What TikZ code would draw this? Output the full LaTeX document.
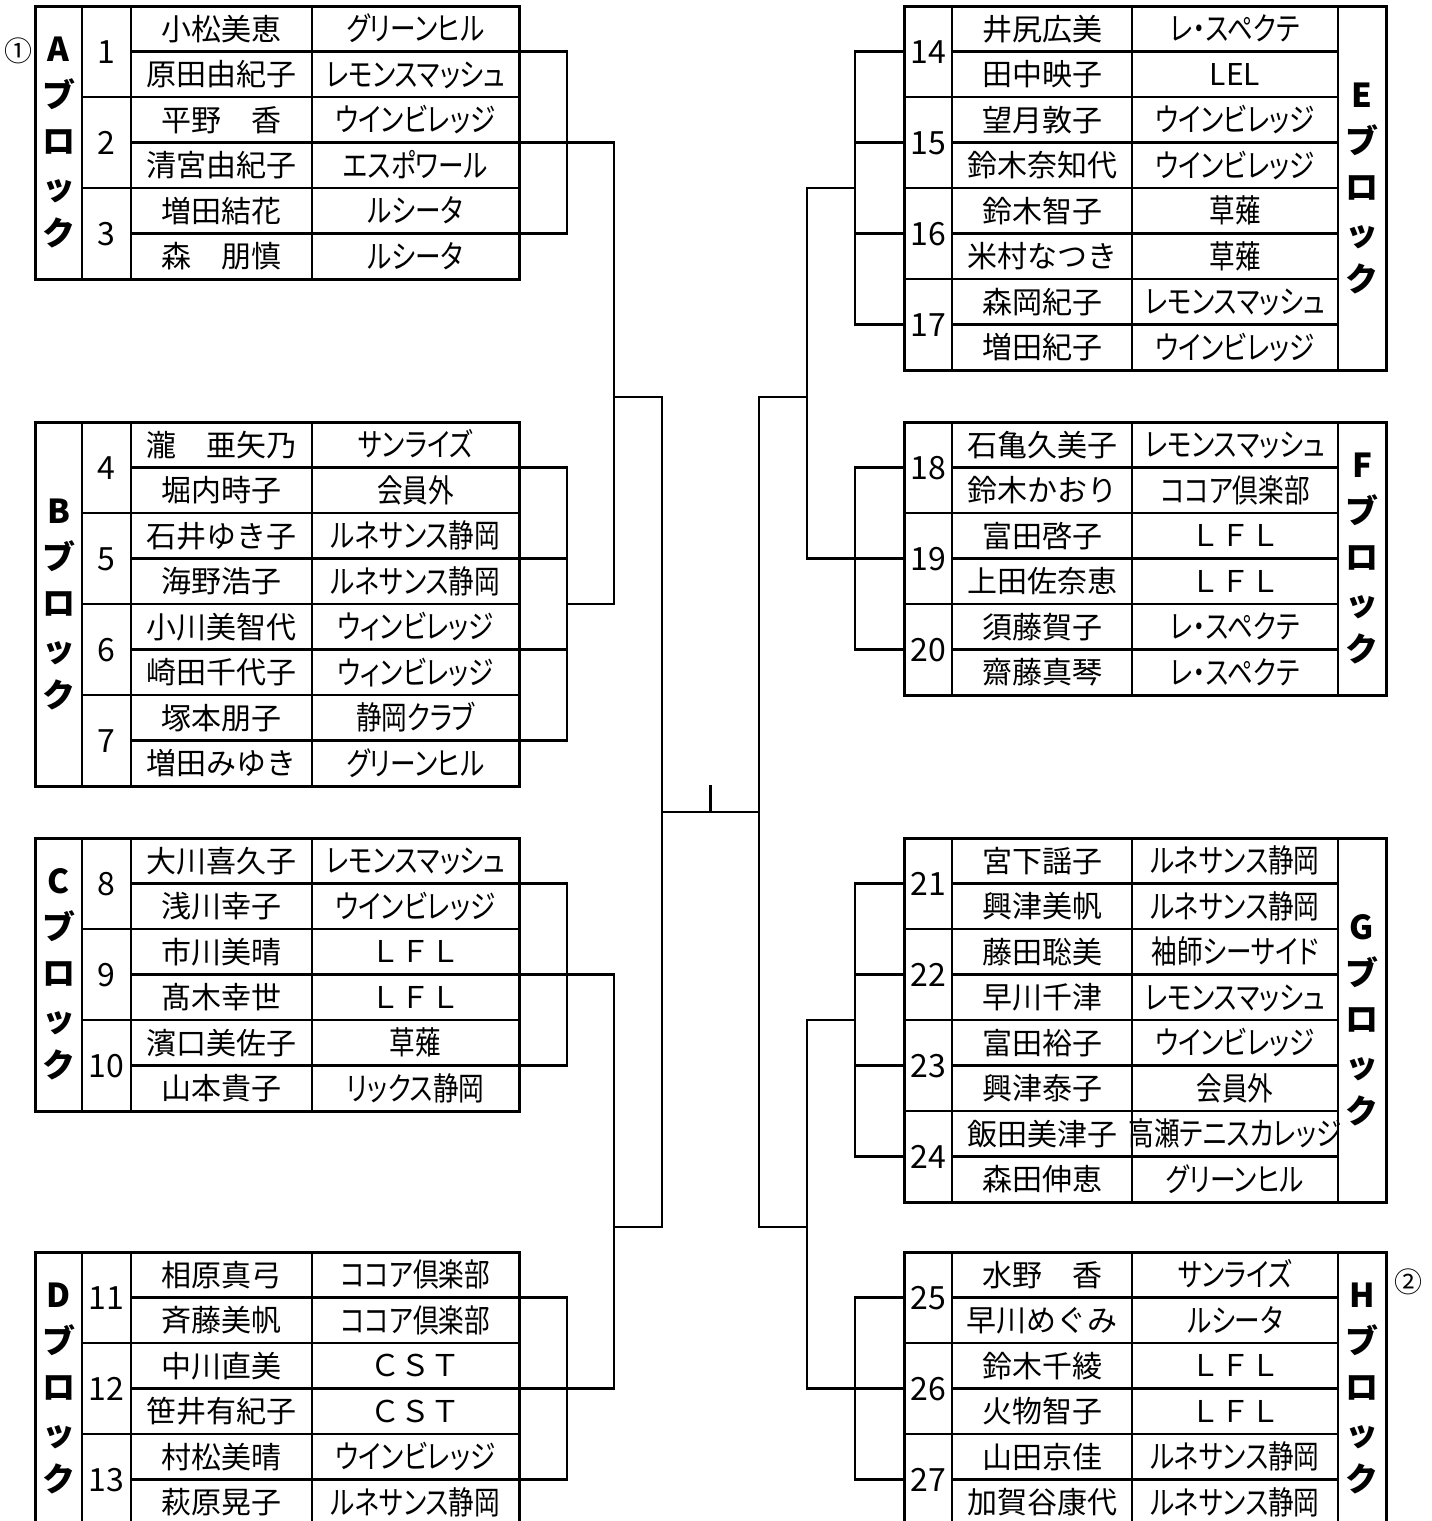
\documentclass[tikz,border=0pt]{standalone}
\usepackage{fontspec}
\setmainfont{Noto Sans CJK JP}
\newfontfamily\clubfont[RawFeature=+palt, FakeStretch=0.8]{Noto Sans CJK JP}
\usetikzlibrary{calc}
\tikzset{
  tabout/.style={draw=black, line width=1.5pt},
  tabin/.style={draw=black, line width=1.2pt},
  bline/.style={draw=black, line width=1.35pt},
  nm/.style={font=\fontsize{15}{15}\selectfont, inner sep=0pt, text height=11.4pt, text depth=0pt},
  cl/.style={font=\clubfont\fontsize{16}{16}\selectfont, inner sep=0pt, text height=12.2pt, text depth=0pt},
  clw/.style={font=\fontsize{15}{15}\selectfont, inner sep=0pt, text height=10.9pt, text depth=0pt},
  num/.style={font=\fontsize{16}{16}\selectfont, inner sep=0pt, text height=11.7pt, text depth=0pt},
  blk/.style={font=\bfseries\fontsize{16.5}{23}\selectfont, align=center, inner sep=0pt},
  circ/.style={font=\fontsize{14}{14}\selectfont, inner sep=0pt}
}

\begin{document}
\begin{tikzpicture}[x=0.5pt, y=-0.5pt]
  \useasboundingbox (0,0) rectangle (1431,1521);
  \clip (0,0) rectangle (1431,1521);

  % left tables
  \draw[tabin] (82,6) -- (82,279) (131,6) -- (131,279) (312,6) -- (312,279);
  \draw[tabin] (82,97) -- (519,97) (82,188) -- (519,188);
  \draw[tabin] (131,51.5) -- (519,51.5) (131,142.5) -- (519,142.5) (131,233.5) -- (519,233.5);
  \draw[tabout] (35,6) rectangle (519,279);

  \draw[tabin] (82,422) -- (82,786) (131,422) -- (131,786) (312,422) -- (312,786);
  \draw[tabin] (82,513) -- (519,513) (82,604) -- (519,604) (82,695) -- (519,695);
  \draw[tabin] (131,467.5) -- (519,467.5) (131,558.5) -- (519,558.5) (131,649.5) -- (519,649.5) (131,740.5) -- (519,740.5);
  \draw[tabout] (35,422) rectangle (519,786);

  \draw[tabin] (82,838) -- (82,1111) (131,838) -- (131,1111) (312,838) -- (312,1111);
  \draw[tabin] (82,929) -- (519,929) (82,1020) -- (519,1020);
  \draw[tabin] (131,883.5) -- (519,883.5) (131,974.5) -- (519,974.5) (131,1065.5) -- (519,1065.5);
  \draw[tabout] (35,838) rectangle (519,1111);

  \draw[tabin] (82,1252) -- (82,1525) (131,1252) -- (131,1525) (312,1252) -- (312,1525);
  \draw[tabin] (82,1343) -- (519,1343) (82,1434) -- (519,1434);
  \draw[tabin] (131,1297.5) -- (519,1297.5) (131,1388.5) -- (519,1388.5) (131,1479.5) -- (519,1479.5);
  \draw[tabout] (35,1252) rectangle (519,1525);

  % right tables
  \draw[tabin] (952,6) -- (952,370) (1132,6) -- (1132,370) (1338,6) -- (1338,370);
  \draw[tabin] (904,97) -- (1338,97) (904,188) -- (1338,188) (904,279) -- (1338,279);
  \draw[tabin] (952,51.5) -- (1338,51.5) (952,142.5) -- (1338,142.5) (952,233.5) -- (1338,233.5) (952,324.5) -- (1338,324.5);
  \draw[tabout] (904,6) rectangle (1386,370);

  \draw[tabin] (952,422) -- (952,695) (1132,422) -- (1132,695) (1338,422) -- (1338,695);
  \draw[tabin] (904,513) -- (1338,513) (904,604) -- (1338,604);
  \draw[tabin] (952,467.5) -- (1338,467.5) (952,558.5) -- (1338,558.5) (952,649.5) -- (1338,649.5);
  \draw[tabout] (904,422) rectangle (1386,695);

  \draw[tabin] (952,838) -- (952,1202) (1132,838) -- (1132,1202) (1338,838) -- (1338,1202);
  \draw[tabin] (904,929) -- (1338,929) (904,1020) -- (1338,1020) (904,1111) -- (1338,1111);
  \draw[tabin] (952,883.5) -- (1338,883.5) (952,974.5) -- (1338,974.5) (952,1065.5) -- (1338,1065.5) (952,1156.5) -- (1338,1156.5);
  \draw[tabout] (904,838) rectangle (1386,1202);

  \draw[tabin] (952,1252) -- (952,1525) (1132,1252) -- (1132,1525) (1338,1252) -- (1338,1525);
  \draw[tabin] (904,1343) -- (1338,1343) (904,1434) -- (1338,1434);
  \draw[tabin] (952,1297.5) -- (1338,1297.5) (952,1388.5) -- (1338,1388.5) (952,1479.5) -- (1338,1479.5);
  \draw[tabout] (904,1252) rectangle (1386,1525);

  % A block
  \node[circ] (m1) at (18,51) {①};
  \node[blk] (lA) at (58.5,142.5) {A\\ブ\\ロ\\ッ\\ク};
  \node[num] (p1) at (106.5,51.5) {1};
  \node[nm] (n1a) at (221.5,28.75) {小松美恵};     \node[cl] (c1a) at (415.5,28.75) {グリーンヒル};
  \node[nm] (n1b) at (221.5,74.25) {原田由紀子};   \node[cl] (c1b) at (415.5,74.25) {レモンスマッシュ};
  \node[num] (p2) at (106.5,142.5) {2};
  \node[nm] (n2a) at (221.5,119.75) {平野　香};    \node[cl] (c2a) at (415.5,119.75) {ウインビレッジ};
  \node[nm] (n2b) at (221.5,165.25) {清宮由紀子};  \node[cl] (c2b) at (415.5,165.25) {エスポワール};
  \node[num] (p3) at (106.5,233.5) {3};
  \node[nm] (n3a) at (221.5,210.75) {増田結花};    \node[cl] (c3a) at (415.5,210.75) {ルシータ};
  \node[nm] (n3b) at (221.5,256.25) {森　朋慎};    \node[cl] (c3b) at (415.5,256.25) {ルシータ};

  % B block
  \node[blk] (lB) at (58.5,604) {B\\ブ\\ロ\\ッ\\ク};
  \node[num] (p4) at (106.5,467.5) {4};
  \node[nm] (n4a) at (221.5,444.75) {瀧　亜矢乃};   \node[cl] (c4a) at (415.5,444.75) {サンライズ};
  \node[nm] (n4b) at (221.5,490.25) {堀内時子};     \node[cl] (c4b) at (415.5,490.25) {会員外};
  \node[num] (p5) at (106.5,558.5) {5};
  \node[nm] (n5a) at (221.5,535.75) {石井ゆき子};   \node[cl] (c5a) at (415.5,535.75) {ルネサンス静岡};
  \node[nm] (n5b) at (221.5,581.25) {海野浩子};     \node[cl] (c5b) at (415.5,581.25) {ルネサンス静岡};
  \node[num] (p6) at (106.5,649.5) {6};
  \node[nm] (n6a) at (221.5,626.75) {小川美智代};   \node[cl] (c6a) at (415.5,626.75) {ウィンビレッジ};
  \node[nm] (n6b) at (221.5,672.25) {崎田千代子};   \node[cl] (c6b) at (415.5,672.25) {ウィンビレッジ};
  \node[num] (p7) at (106.5,740.5) {7};
  \node[nm] (n7a) at (221.5,717.75) {塚本朋子};     \node[cl] (c7a) at (415.5,717.75) {静岡クラブ};
  \node[nm] (n7b) at (221.5,763.25) {増田みゆき};   \node[cl] (c7b) at (415.5,763.25) {グリーンヒル};

  % C block
  \node[blk] (lC) at (58.5,974.5) {C\\ブ\\ロ\\ッ\\ク};
  \node[num] (p8) at (106.5,883.5) {8};
  \node[nm] (n8a) at (221.5,860.75) {大川喜久子};   \node[cl] (c8a) at (415.5,860.75) {レモンスマッシュ};
  \node[nm] (n8b) at (221.5,906.25) {浅川幸子};     \node[cl] (c8b) at (415.5,906.25) {ウインビレッジ};
  \node[num] (p9) at (106.5,974.5) {9};
  \node[nm] (n9a) at (221.5,951.75) {市川美晴};     \node[clw] (c9a) at (415.5,951.75) {ＬＦＬ};
  \node[nm] (n9b) at (221.5,997.25) {髙木幸世};     \node[clw] (c9b) at (415.5,997.25) {ＬＦＬ};
  \node[num] (p10) at (106.5,1065.5) {10};
  \node[nm] (n10a) at (221.5,1042.75) {濱口美佐子}; \node[cl] (c10a) at (415.5,1042.75) {草薙};
  \node[nm] (n10b) at (221.5,1088.25) {山本貴子};   \node[cl] (c10b) at (415.5,1088.25) {リックス静岡};

  % D block
  \node[blk] (lD) at (58.5,1388.5) {D\\ブ\\ロ\\ッ\\ク};
  \node[num] (p11) at (106.5,1297.5) {11};
  \node[nm] (n11a) at (221.5,1274.75) {相原真弓};   \node[cl] (c11a) at (415.5,1274.75) {ココア倶楽部};
  \node[nm] (n11b) at (221.5,1320.25) {斉藤美帆};   \node[cl] (c11b) at (415.5,1320.25) {ココア倶楽部};
  \node[num] (p12) at (106.5,1388.5) {12};
  \node[nm] (n12a) at (221.5,1365.75) {中川直美};   \node[clw] (c12a) at (415.5,1365.75) {ＣＳＴ};
  \node[nm] (n12b) at (221.5,1411.25) {笹井有紀子}; \node[clw] (c12b) at (415.5,1411.25) {ＣＳＴ};
  \node[num] (p13) at (106.5,1479.5) {13};
  \node[nm] (n13a) at (221.5,1456.75) {村松美晴};   \node[cl] (c13a) at (415.5,1456.75) {ウインビレッジ};
  \node[nm] (n13b) at (221.5,1502.25) {萩原晃子};   \node[cl] (c13b) at (415.5,1502.25) {ルネサンス静岡};

  % E block
  \node[blk] (lE) at (1362,188) {E\\ブ\\ロ\\ッ\\ク};
  \node[num] (p14) at (928,51.5) {14};
  \node[nm] (n14a) at (1042,28.75) {井尻広美};     \node[cl] (c14a) at (1235,28.75) {レ・スペクテ};
  \node[nm] (n14b) at (1042,74.25) {田中映子};     \node[clw] (c14b) at (1235,74.25) {LEL};
  \node[num] (p15) at (928,142.5) {15};
  \node[nm] (n15a) at (1042,119.75) {望月敦子};    \node[cl] (c15a) at (1235,119.75) {ウインビレッジ};
  \node[nm] (n15b) at (1042,165.25) {鈴木奈知代};  \node[cl] (c15b) at (1235,165.25) {ウインビレッジ};
  \node[num] (p16) at (928,233.5) {16};
  \node[nm] (n16a) at (1042,210.75) {鈴木智子};    \node[cl] (c16a) at (1235,210.75) {草薙};
  \node[nm] (n16b) at (1042,256.25) {米村なつき};  \node[cl] (c16b) at (1235,256.25) {草薙};
  \node[num] (p17) at (928,324.5) {17};
  \node[nm] (n17a) at (1042,301.75) {森岡紀子};    \node[cl] (c17a) at (1235,301.75) {レモンスマッシュ};
  \node[nm] (n17b) at (1042,347.25) {増田紀子};    \node[cl] (c17b) at (1235,347.25) {ウインビレッジ};

  % F block
  \node[blk] (lF) at (1362,558.5) {F\\ブ\\ロ\\ッ\\ク};
  \node[num] (p18) at (928,467.5) {18};
  \node[nm] (n18a) at (1042,444.75) {石亀久美子};  \node[cl] (c18a) at (1235,444.75) {レモンスマッシュ};
  \node[nm] (n18b) at (1042,490.25) {鈴木かおり};  \node[cl] (c18b) at (1235,490.25) {ココア倶楽部};
  \node[num] (p19) at (928,558.5) {19};
  \node[nm] (n19a) at (1042,535.75) {富田啓子};    \node[clw] (c19a) at (1235,535.75) {ＬＦＬ};
  \node[nm] (n19b) at (1042,581.25) {上田佐奈恵};  \node[clw] (c19b) at (1235,581.25) {ＬＦＬ};
  \node[num] (p20) at (928,649.5) {20};
  \node[nm] (n20a) at (1042,626.75) {須藤賀子};    \node[cl] (c20a) at (1235,626.75) {レ・スペクテ};
  \node[nm] (n20b) at (1042,672.25) {齋藤真琴};    \node[cl] (c20b) at (1235,672.25) {レ・スペクテ};

  % G block
  \node[blk] (lG) at (1362,1020) {G\\ブ\\ロ\\ッ\\ク};
  \node[num] (p21) at (928,883.5) {21};
  \node[nm] (n21a) at (1042,860.75) {宮下謡子};    \node[cl] (c21a) at (1235,860.75) {ルネサンス静岡};
  \node[nm] (n21b) at (1042,906.25) {興津美帆};    \node[cl] (c21b) at (1235,906.25) {ルネサンス静岡};
  \node[num] (p22) at (928,974.5) {22};
  \node[nm] (n22a) at (1042,951.75) {藤田聡美};    \node[cl] (c22a) at (1235,951.75) {袖師シーサイド};
  \node[nm] (n22b) at (1042,997.25) {早川千津};    \node[cl] (c22b) at (1235,997.25) {レモンスマッシュ};
  \node[num] (p23) at (928,1065.5) {23};
  \node[nm] (n23a) at (1042,1042.75) {富田裕子};   \node[cl] (c23a) at (1235,1042.75) {ウインビレッジ};
  \node[nm] (n23b) at (1042,1088.25) {興津泰子};   \node[cl] (c23b) at (1235,1088.25) {会員外};
  \node[num] (p24) at (928,1156.5) {24};
  \node[nm] (n24a) at (1042,1133.75) {飯田美津子}; \node[cl] (c24a) at (1235,1133.75) {高瀬テニスカレッジ};
  \node[nm] (n24b) at (1042,1179.25) {森田伸恵};   \node[cl] (c24b) at (1235,1179.25) {グリーンヒル};

  % H block
  \node[circ] (m2) at (1408,1282) {②};
  \node[blk] (lH) at (1362,1388.5) {H\\ブ\\ロ\\ッ\\ク};
  \node[num] (p25) at (928,1297.5) {25};
  \node[nm] (n25a) at (1042,1274.75) {水野　香};   \node[cl] (c25a) at (1235,1274.75) {サンライズ};
  \node[nm] (n25b) at (1042,1320.25) {早川めぐみ}; \node[cl] (c25b) at (1235,1320.25) {ルシータ};
  \node[num] (p26) at (928,1388.5) {26};
  \node[nm] (n26a) at (1042,1365.75) {鈴木千綾};   \node[clw] (c26a) at (1235,1365.75) {ＬＦＬ};
  \node[nm] (n26b) at (1042,1411.25) {火物智子};   \node[clw] (c26b) at (1235,1411.25) {ＬＦＬ};
  \node[num] (p27) at (928,1479.5) {27};
  \node[nm] (n27a) at (1042,1456.75) {山田京佳};   \node[cl] (c27a) at (1235,1456.75) {ルネサンス静岡};
  \node[nm] (n27b) at (1042,1502.25) {加賀谷康代}; \node[cl] (c27b) at (1235,1502.25) {ルネサンス静岡};

  % bracket columns
  \coordinate (eL) at (519,0);
  \coordinate (xa) at (567,0);
  \coordinate (xb) at (614,0);
  \coordinate (eR) at (904,0);
  \coordinate (ya) at (855,0);
  \coordinate (yb) at (807,0);
  \coordinate (kB) at (567,604);
  \coordinate (kE) at (855,188);
  \coordinate (kG) at (855,1020);
  \coordinate (qL1) at (614,397);
  \coordinate (qL2) at (614,1227);
  \coordinate (qR1) at (807,397);
  \coordinate (qR2) at (807,1227);
  \coordinate (cL) at (662,812);
  \coordinate (cR) at (759,812);
  \coordinate (top) at (710.5,785);

  % left brackets
  \draw[bline] (p1 -| eL) -| (p3 -| xa) -- (p3 -| eL);
  \draw[bline] (p2 -| eL) -| (kB -| xb) -- (kB);
  \draw[bline] (p4 -| eL) -| (p7 -| xa) -- (p7 -| eL);
  \draw[bline] (p5 -| eL) -- (p5 -| xa);
  \draw[bline] (p6 -| eL) -- (p6 -| xa);
  \draw[bline] (p8 -| eL) -| (p10 -| xa) -- (p10 -| eL);
  \draw[bline] (p9 -| eL) -| (p12 -| xb) -- (p12 -| eL);
  \draw[bline] (p11 -| eL) -| (p13 -| xa) -- (p13 -| eL);

  % right brackets
  \draw[bline] (p14 -| eR) -| (p17 -| ya) -- (p17 -| eR);
  \draw[bline] (p15 -| eR) -- (p15 -| ya);
  \draw[bline] (p16 -| eR) -- (p16 -| ya);
  \draw[bline] (kE) -| (p19 -| yb) -- (p19 -| eR);
  \draw[bline] (p18 -| eR) -| (p20 -| ya) -- (p20 -| eR);
  \draw[bline] (p21 -| eR) -| (p24 -| ya) -- (p24 -| eR);
  \draw[bline] (p22 -| eR) -- (p22 -| ya);
  \draw[bline] (p23 -| eR) -- (p23 -| ya);
  \draw[bline] (kG) -| (p26 -| yb) -- (p26 -| eR);
  \draw[bline] (p25 -| eR) -| (p27 -| ya) -- (p27 -| eR);

  % final
  \draw[bline] (qL1) -| (cL) |- (qL2);
  \draw[bline] (qR1) -| (cR) |- (qR2);
  \draw[bline] (cL) -- (cR);
  \draw[bline] (top) -- (top |- cL);
\end{tikzpicture}
\end{document}
